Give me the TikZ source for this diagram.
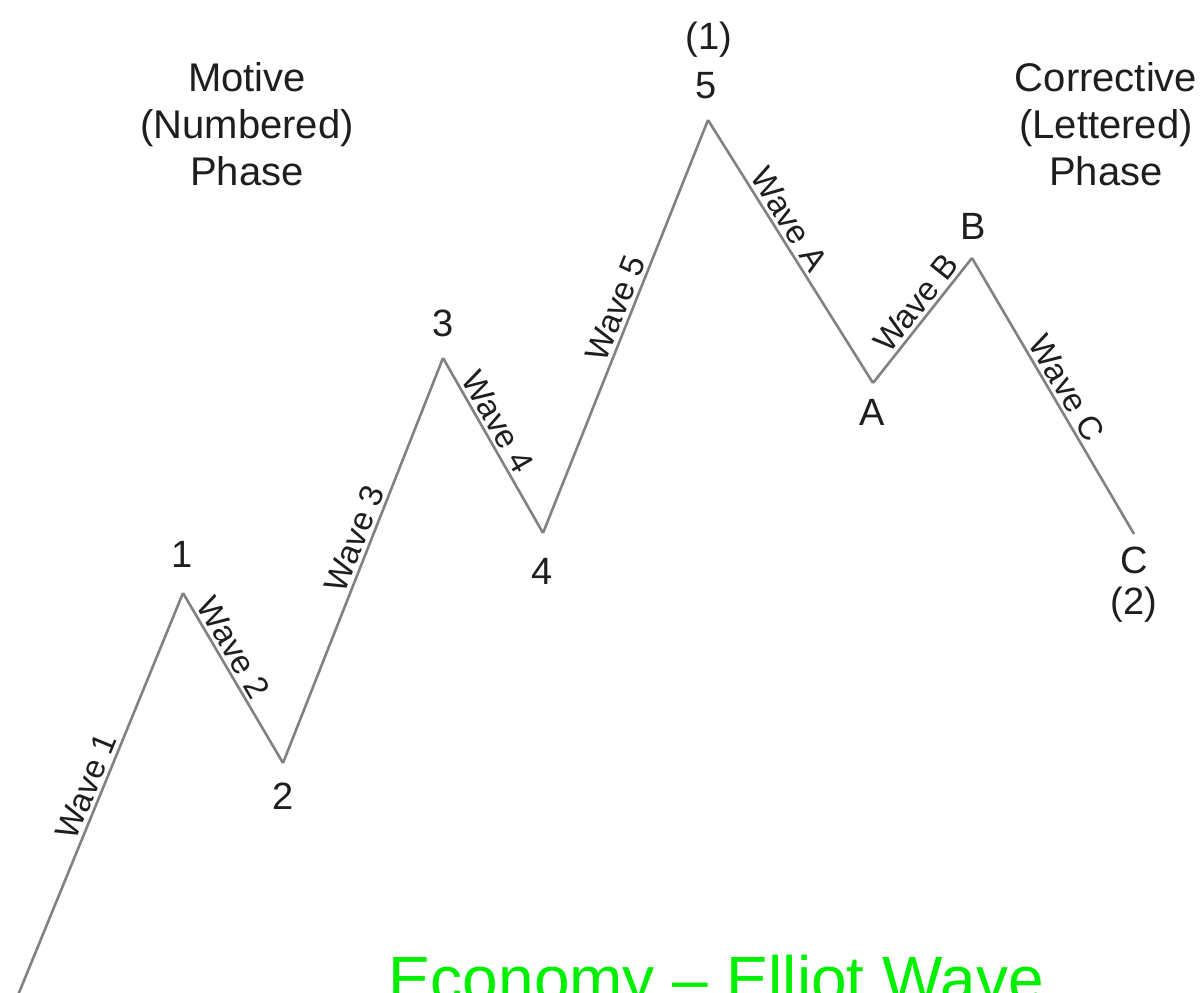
\documentclass[tikz,border=0pt]{standalone}
\usepackage{fontspec}
\setmainfont{Liberation Sans}
\definecolor{wline}{RGB}{130,130,130}
\definecolor{wtext}{RGB}{30,30,30}
\definecolor{wgreen}{RGB}{0,240,0}
\begin{document}
\begin{tikzpicture}[x=1pt,y=-1pt,
  wave/.style={draw=wline,line width=2.6pt,line join=miter},
  ptlabel/.style={text=wtext,font=\fontsize{38}{44}\selectfont,inner sep=0pt},
  phase/.style={text=wtext,font=\fontsize{40}{47}\selectfont,align=center,inner sep=0pt},
  wlabel/.style={text=wtext,font=\fontsize{33}{38}\selectfont,sloped,above,inner sep=3pt}]
\clip (0,0) rectangle (1202,993);
\fill[white] (0,0) rectangle (1202,993);
% wave points
\coordinate (p0) at (16,1000);
\coordinate (p1) at (183,593);
\coordinate (p2) at (283,763);
\coordinate (p3) at (443,358);
\coordinate (p4) at (543,533);
\coordinate (p5) at (708,120);
\coordinate (pA) at (873,383);
\coordinate (pB) at (972,258);
\coordinate (pC) at (1134,534);
% path
\draw[wave] (p0) -- node[wlabel,pos=0.51]{Wave 1} (p1);
\draw[wave] (p1) -- node[wlabel,pos=0.37]{Wave 2} (p2);
\draw[wave] (p2) -- node[wlabel,pos=0.54]{Wave 3} (p3);
\draw[wave] (p3) -- node[wlabel,pos=0.41]{Wave 4} (p4);
\draw[wave] (p4) -- node[wlabel,pos=0.53]{Wave 5} (p5);
\draw[wave] (p5) -- node[wlabel,pos=0.41]{Wave A} (pA);
\draw[wave] (pA) -- node[wlabel,pos=0.56]{Wave B} (pB);
\draw[wave] (pB) -- node[wlabel,pos=0.50]{Wave C} (pC);
% point labels
\node[ptlabel] (l1) at (182,554) {1};
\node[ptlabel] (l2) at (283,796) {2};
\node[ptlabel] (l3) at (443,323) {3};
\node[ptlabel] (l4) at (542,571) {4};
\node[ptlabel] (l5) at (706,86) {5};
\node[ptlabel] (l5b) at (709,40) {(1)};
\node[ptlabel] (lA) at (872,412) {A};
\node[ptlabel] (lB) at (973,226) {B};
\node[ptlabel] (lC) at (1134,560) {C};
\node[ptlabel] (lC2) at (1134,605) {(2)};
% phase titles
\node[phase] (motive) at (247,124) {Motive\\(Numbered)\\Phase};
\node[phase] (corr) at (1106,124) {Corrective\\(Lettered)\\Phase};
% title
\node[text=wgreen,font=\fontsize{64}{70}\selectfont,anchor=base west,inner sep=0pt] (title) at (388,1001) {Economy – Elliot Wave};
\end{tikzpicture}
\end{document}
